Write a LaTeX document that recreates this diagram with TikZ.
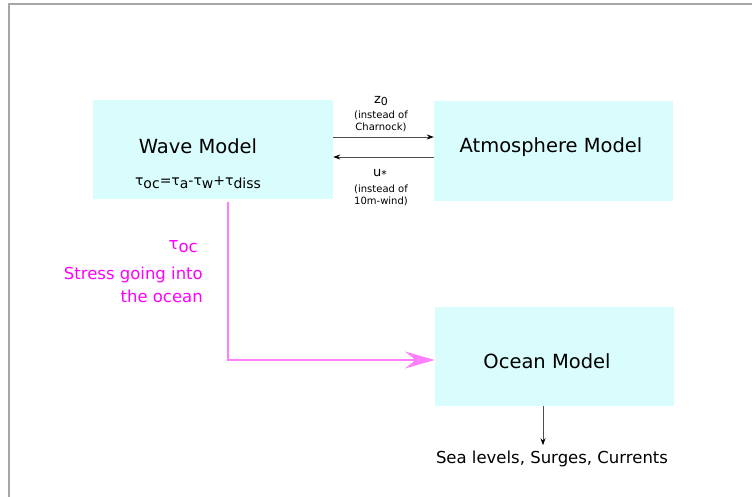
\documentclass[tikz,border=0pt]{standalone}
\usepackage{fontspec}
\setmainfont{DejaVu Sans}
\usetikzlibrary{arrows.meta,calc}
\definecolor{boxcyan}{HTML}{D9FDFD}
\definecolor{mag}{HTML}{FF00FF}
\definecolor{magline}{HTML}{FF80FF}
\newcommand\lowr[1]{\raisebox{-0.35ex}{#1}}
\begin{document}
\begin{tikzpicture}[x=1pt,y=-1pt,
  modelbox/.style={fill=boxcyan, draw=none, inner sep=0pt},
  bigtxt/.style={font=\fontsize{19.5}{22}\selectfont, inner sep=0pt},
  smalltxt/.style={font=\fontsize{10}{12}\selectfont, inner sep=0pt},
  symtxt/.style={font=\fontsize{13}{15}\selectfont, inner sep=0pt},
  magtxt/.style={font=\fontsize{16.5}{19}\selectfont, text=mag, inner sep=0pt, anchor=east},
  conn/.style={draw=black!70, line width=0.8pt, -{Stealth[length=7pt,width=5pt,color=black]}}
]
\useasboundingbox (0,0) rectangle (752,497);
\draw[black!35, line width=1.2pt] (9,497) -- (9,4) -- (752,4);

\node[modelbox, minimum width=240pt, minimum height=99pt] (wave) at (213,149.5) {};
\node[modelbox, minimum width=239pt, minimum height=100pt] (atm) at (553.5,151) {};
\node[modelbox, minimum width=239pt, minimum height=99pt] (ocean) at (554.5,356.5) {};

\node[bigtxt] (wavet) at (198,146) {Wave Model};
\node[font=\fontsize{14}{17}\selectfont, inner sep=0pt] (formula) at (198,183)
  {τ\lowr{oc}=τ\lowr{a}-τ\lowr{w}+τ\lowr{diss}};
\node[bigtxt] (atmt) at (551,147) {Atmosphere Model};
\node[bigtxt] (oceant) at (547,361) {Ocean Model};

% coupling arrows
\draw[conn] ([yshift=12.5pt]wave.east) -- ([yshift=12.5pt]wave.east -| atm.west);
\draw[conn] ([yshift=-6pt]atm.west) -- ([yshift=-6pt]atm.west -| wave.east);

\node[symtxt] (z0) at (381,101) {z\lowr{\fontsize{11}{12}\selectfont 0}};
\node[smalltxt] (zi1) at (381,115) {(instead of};
\node[smalltxt] (zi2) at (381,127) {Charnock)};
\node[symtxt] (us) at (380,174) {u\lowr{\fontsize{11}{12}\selectfont *}};
\node[smalltxt] (ui1) at (381,189) {(instead of};
\node[smalltxt] (ui2) at (381,201) {10m-wind)};

% stress into ocean
\draw[magline, line width=2pt,
  -{Stealth[length=30pt,width=17pt,inset=11pt,color=magline]}]
  ([xshift=15pt,yshift=-3pt]wave.south) |- ([yshift=-3.5pt]ocean.west);

\node[magtxt] (tau) at (198,247) {τ\lowr{oc}};
\node[magtxt] (str1) at (203,275) {Stress going into};
\node[magtxt] (str2) at (203,296) {the ocean};

% output
\node[font=\fontsize{16.5}{19}\selectfont, inner sep=0pt] (out) at (552,459) {Sea levels, Surges, Currents};
\draw[conn] ([xshift=-11.5pt]ocean.south) -- ([xshift=-11.5pt,yshift=-39pt]ocean.south);
\end{tikzpicture}
\end{document}
